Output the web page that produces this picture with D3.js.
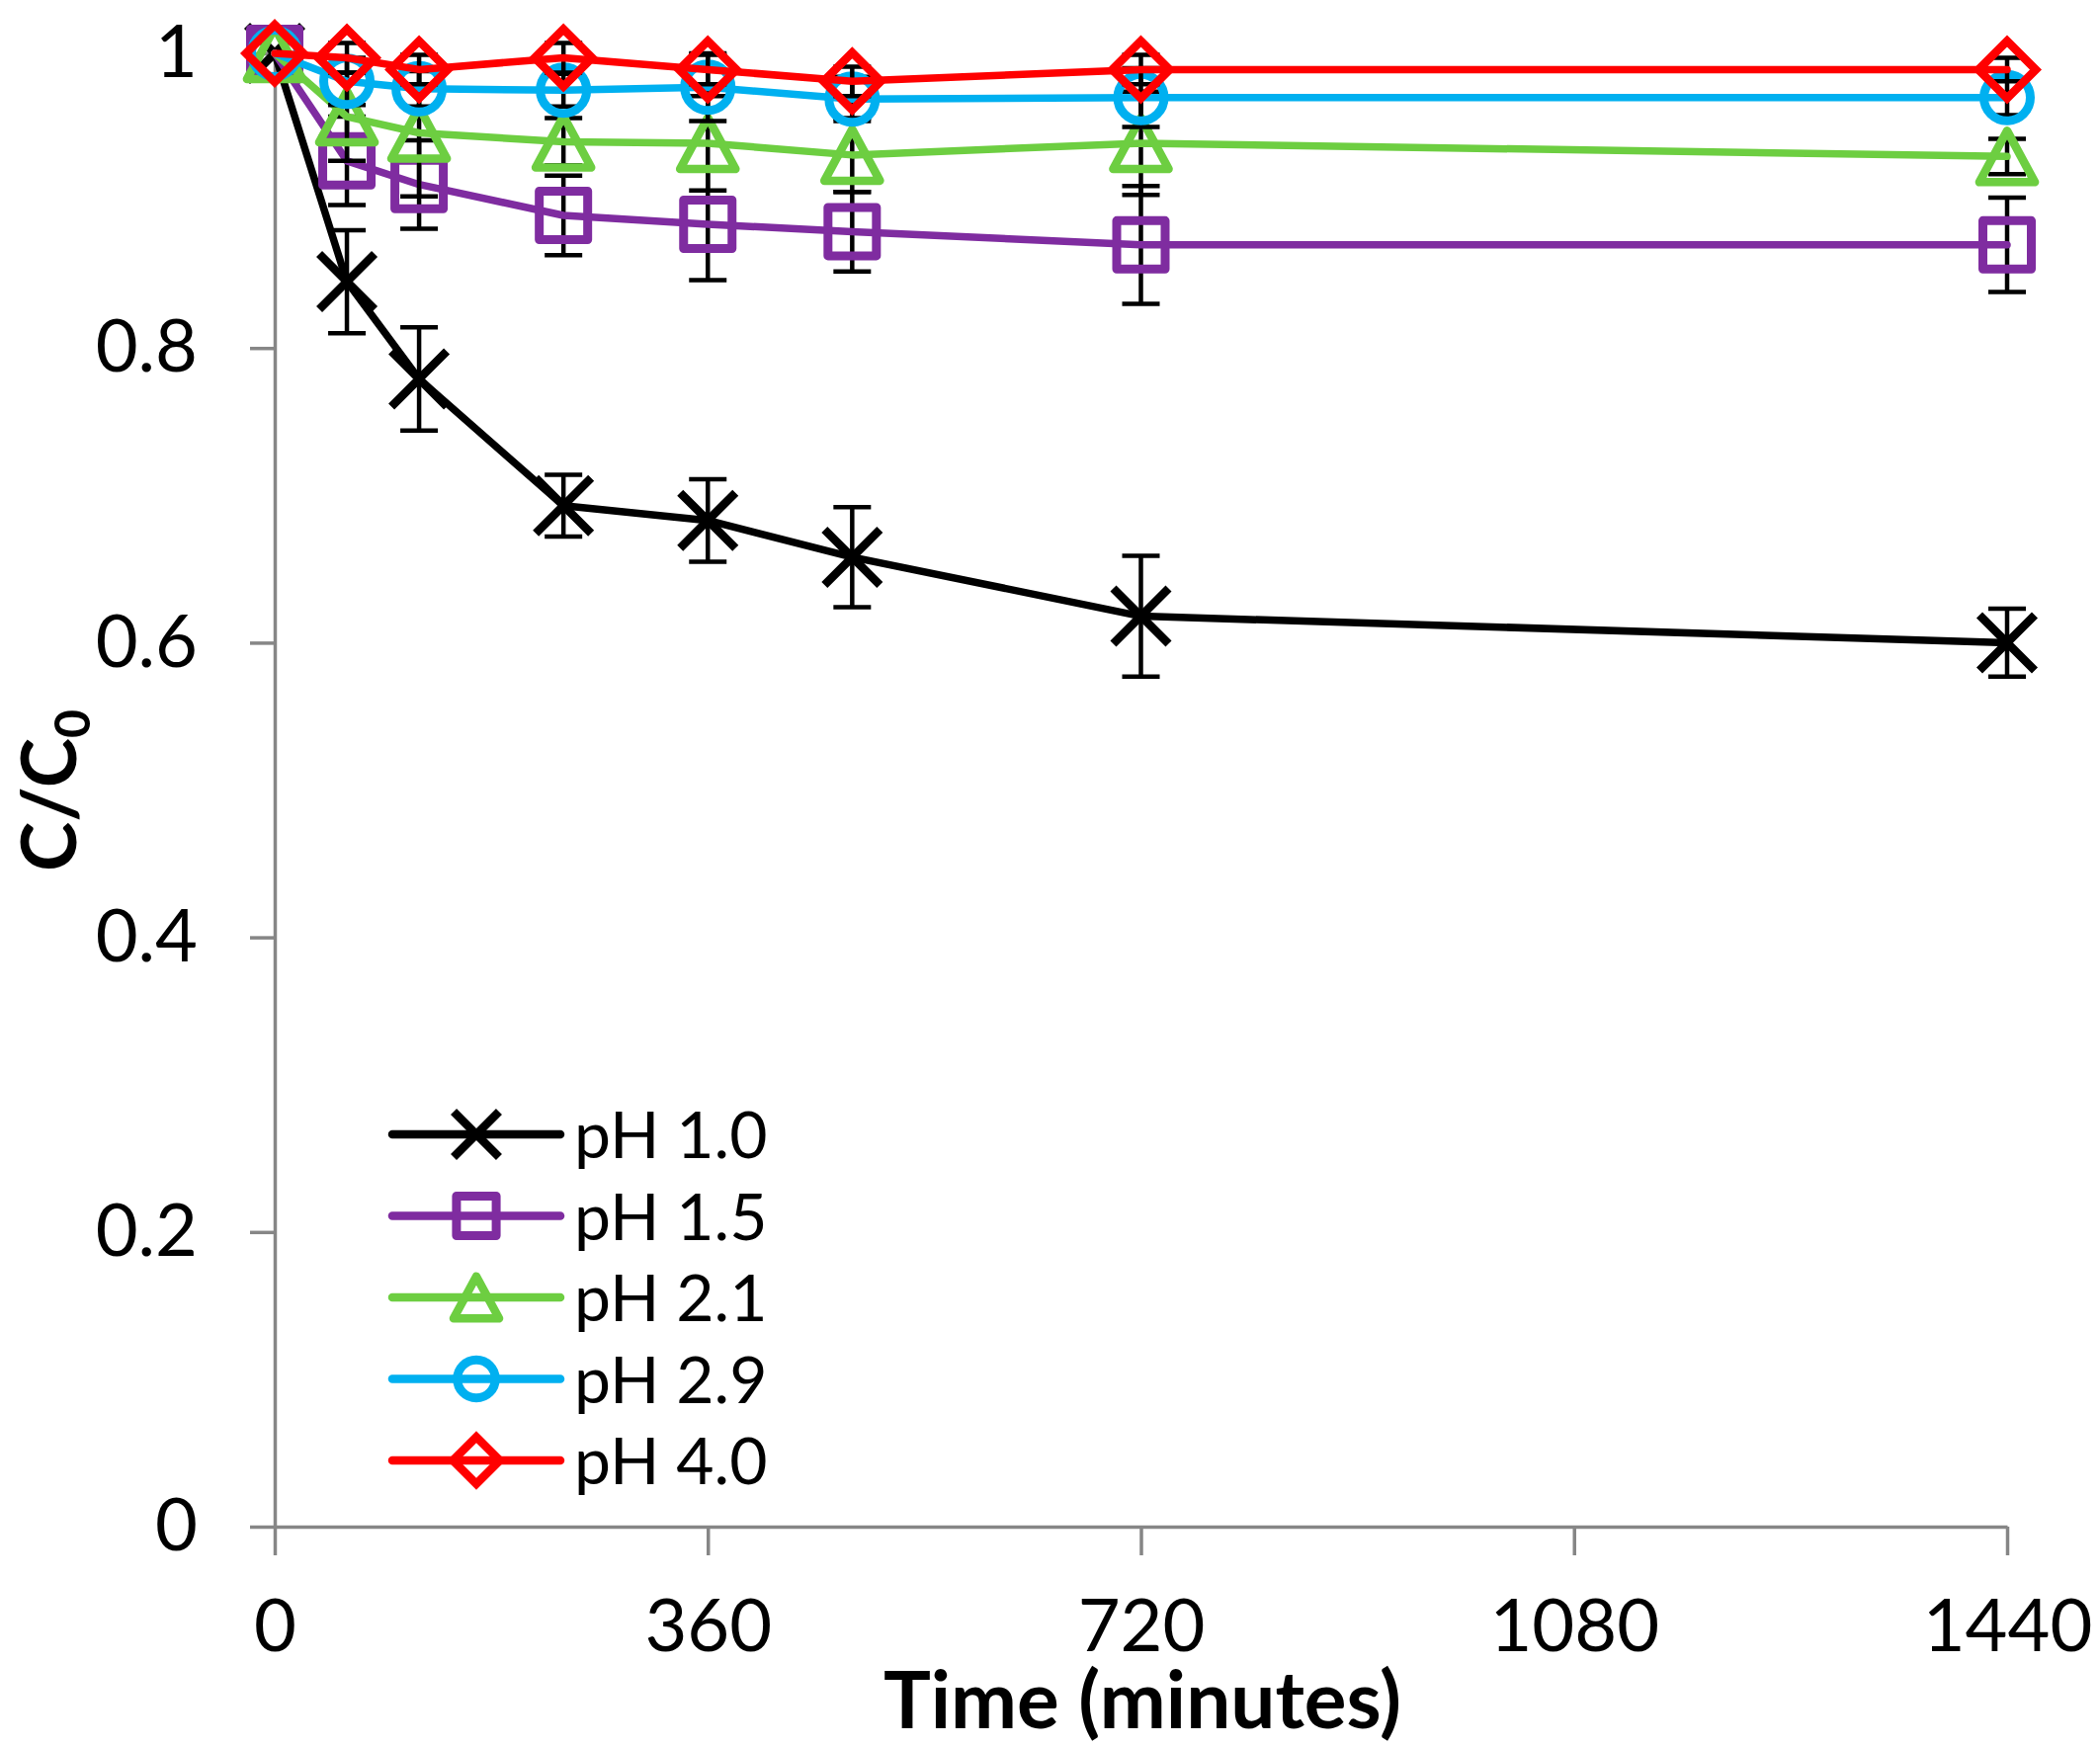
<!DOCTYPE html>
<html>
<head>
<meta charset="utf-8">
<script src="https://cdn.jsdelivr.net/npm/d3@7"></script>
<style>
    body { margin: 0; background: #fff; }
    text { font-family: Lato, "Noto Sans", sans-serif; fill: #000; }
</style>
</head>
<body>
<div id="chart-area"></div>
<script>
// Sampling times (minutes)
var times = [0, 60, 120, 240, 360, 480, 720, 1440];

var seriesNames = ["pH 1.0", "pH 1.5", "pH 2.1", "pH 2.9", "pH 4.0"];

// C/C0
var ph10 = [1.0, 0.845, 0.779, 0.693, 0.683, 0.658, 0.618, 0.600];
var ph15 = [1.0, 0.927, 0.911, 0.890, 0.884, 0.879, 0.870, 0.870];
var ph21 = [1.0, 0.957, 0.946, 0.940, 0.939, 0.931, 0.939, 0.930];
var ph29 = [1.0, 0.981, 0.976, 0.975, 0.977, 0.969, 0.970, 0.970];
var ph40 = [1.0, 0.997, 0.989, 0.997, 0.989, 0.981, 0.989, 0.989];

// error bars (+/-)
var ph10Err = [0, 0.035, 0.035, 0.021, 0.028, 0.034, 0.041, 0.023];
var ph15Err = [0, 0.030, 0.030, 0.027, 0.038, 0.027, 0.040, 0.032];
var ph21Err = [0, 0.030, 0.043, 0.016, 0.032, 0.025, 0.035, 0.012];
var ph29Err = [0, 0.016, 0.012, 0.011, 0.023, 0.015, 0.020, 0.012];
var ph40Err = [0, 0.010, 0.010, 0.010, 0.010, 0.010, 0.010, 0.008];

var xTicks = [0, 360, 720, 1080, 1440];
var yTicks = [0, 0.2, 0.4, 0.6, 0.8, 1];
var yTickLabels = ["0", "0.2", "0.4", "0.6", "0.8", "1"];

var seriesValues = [ph10, ph15, ph21, ph29, ph40];
var seriesErrors = [ph10Err, ph15Err, ph21Err, ph29Err, ph40Err];

// look of each series
var seriesStyles = [
    { colour: "#000000", marker: "x" },
    { colour: "#7f2ca0", marker: "square" },
    { colour: "#6dce41", marker: "triangle" },
    { colour: "#00b0f0", marker: "circle" },
    { colour: "#ff0000", marker: "diamond" }
];

// marker outlines, centred on 0,0, r = half size
function markerPath(type, r) {
    switch (type) {
        case "x":
            return "M" + (-r) + "," + (-r) + "L" + r + "," + r + "M" + (-r) + "," + r + "L" + r + "," + (-r);
        case "square":
            return "M" + (-r) + "," + (-r) + "H" + r + "V" + r + "H" + (-r) + "Z";
        case "triangle":
            var w = r * 1.08;
            return "M0," + (-r) + "L" + w + "," + r + "L" + (-w) + "," + r + "Z";
        case "circle":
            return "M" + r + ",0A" + r + "," + r + " 0 1 1 " + (-r) + ",0A" + r + "," + r + " 0 1 1 " + r + ",0Z";
        case "diamond":
            return "M0," + (-r) + "L" + r + ",0L0," + r + "L" + (-r) + ",0Z";
    }
}

var markerSize = { x: 28, square: 24.5, triangle: 26, circle: 23.5, diamond: 29 };
var markerStroke = { x: 8.5, square: 9, triangle: 8.5, circle: 9, diamond: 8.5 };

LineChart = function (_parentElement) {
    this.parentElement = _parentElement;
    this.initVis();
};

LineChart.prototype.initVis = function () {
    var vis = this;
    vis.margin = { left: 278, right: 94, top: 54, bottom: 222 };
    vis.width = 2125 - vis.margin.left - vis.margin.right;
    vis.height = 1767 - vis.margin.top - vis.margin.bottom;

    vis.svg = d3.select(vis.parentElement)
        .append("svg")
        .attr("width", vis.width + vis.margin.left + vis.margin.right)
        .attr("height", vis.height + vis.margin.top + vis.margin.bottom);
    vis.g = vis.svg.append("g")
        .attr("transform", "translate(" + vis.margin.left + ", " + vis.margin.top + ")");

    vis.x = d3.scaleLinear().domain([0, 1440]).range([0, vis.width]);
    vis.y = d3.scaleLinear().domain([0, 1]).range([vis.height, 0]);

    // Axes
    vis.xAxisCall = d3.axisBottom(vis.x)
        .tickValues(xTicks)
        .tickFormat(d3.format("d"))
        .tickSize(29)
        .tickSizeOuter(0)
        .tickPadding(44);
    vis.yAxisCall = d3.axisLeft(vis.y)
        .tickValues(yTicks)
        .tickFormat(function (d, i) { return yTickLabels[i]; })
        .tickSize(25)
        .tickSizeOuter(0)
        .tickPadding(53);

    vis.xAxis = vis.g.append("g")
        .attr("class", "x axis")
        .attr("transform", "translate(0," + vis.height + ")")
        .call(vis.xAxisCall);
    vis.yAxis = vis.g.append("g")
        .attr("class", "y axis")
        .call(vis.yAxisCall);

    vis.g.selectAll(".axis path, .axis line")
        .attr("stroke", "#868686")
        .attr("stroke-width", 3.5);
    vis.g.selectAll(".axis text")
        .attr("font-family", "Lato, 'Noto Sans', sans-serif")
        .attr("font-size", "74px")
        .attr("fill", "#000");

    // X Label
    vis.g.append("text")
        .attr("x", 878)
        .attr("y", 1695)
        .attr("font-size", "80px")
        .attr("font-weight", "bold")
        .attr("text-anchor", "middle")
        .text("Time (minutes)");

    // Y Label
    var yLabel = vis.g.append("text")
        .attr("transform", "rotate(-90)")
        .attr("x", -746)
        .attr("y", -201)
        .attr("font-size", "76px")
        .attr("font-weight", "bold")
        .attr("text-anchor", "middle");
    yLabel.append("tspan").text("C/C");
    yLabel.append("tspan")
        .attr("font-size", "50px")
        .attr("dy", 14)
        .text("0");

    vis.line = d3.line()
        .x(function (d) { return vis.x(d.t); })
        .y(function (d) { return vis.y(d.v); });

    vis.wrangleData();
};

LineChart.prototype.wrangleData = function () {
    var vis = this;
    vis.series = seriesNames.map(function (name, i) {
        return {
            name: name,
            style: seriesStyles[i],
            points: times.map(function (t, j) {
                return { t: t, v: seriesValues[i][j], e: seriesErrors[i][j] };
            })
        };
    });
    vis.updateVis();
};

LineChart.prototype.updateVis = function () {
    var vis = this;

    var groups = vis.g.selectAll(".series")
        .data(vis.series)
        .enter()
        .append("g")
        .attr("class", "series");

    // error bars
    groups.each(function (s) {
        var eb = d3.select(this).append("g").attr("class", "errors")
            .selectAll("g")
            .data(s.points.filter(function (p) { return p.e > 0; }))
            .enter()
            .append("g")
            .attr("stroke", "#000")
            .attr("stroke-width", 4.5);
        eb.append("line")
            .attr("x1", function (d) { return vis.x(d.t); })
            .attr("x2", function (d) { return vis.x(d.t); })
            .attr("y1", function (d) { return vis.y(d.v - d.e); })
            .attr("y2", function (d) { return vis.y(d.v + d.e); });
        eb.append("line")
            .attr("x1", function (d) { return vis.x(d.t) - 19; })
            .attr("x2", function (d) { return vis.x(d.t) + 19; })
            .attr("y1", function (d) { return vis.y(d.v + d.e); })
            .attr("y2", function (d) { return vis.y(d.v + d.e); });
        eb.append("line")
            .attr("x1", function (d) { return vis.x(d.t) - 19; })
            .attr("x2", function (d) { return vis.x(d.t) + 19; })
            .attr("y1", function (d) { return vis.y(d.v - d.e); })
            .attr("y2", function (d) { return vis.y(d.v - d.e); });
    });

    // lines
    groups.append("path")
        .attr("d", function (s) { return vis.line(s.points); })
        .attr("fill", "none")
        .attr("stroke", function (s) { return s.style.colour; })
        .attr("stroke-width", 7.5)
        .attr("stroke-linejoin", "round")
        .attr("stroke-linecap", "round");

    // markers
    groups.each(function (s) {
        var m = s.style.marker;
        d3.select(this).selectAll(".marker")
            .data(s.points)
            .enter()
            .append("path")
            .attr("class", "marker")
            .attr("transform", function (d) { return "translate(" + vis.x(d.t) + "," + vis.y(d.v) + ")"; })
            .attr("d", markerPath(m, markerSize[m]))
            .attr("fill", "none")
            .attr("stroke", s.style.colour)
            .attr("stroke-width", markerStroke[m])
            .attr("stroke-linejoin", m === "diamond" ? "miter" : "round");
    });

    // legend
    var legend = vis.g.append("g").attr("class", "legend")
        .attr("transform", "translate(119,1094)");
    var rows = legend.selectAll("g")
        .data(vis.series)
        .enter()
        .append("g")
        .attr("transform", function (d, i) { return "translate(0," + (i * 82.5) + ")"; });
    rows.append("line")
        .attr("x1", 0)
        .attr("x2", 170)
        .attr("stroke", function (d) { return d.style.colour; })
        .attr("stroke-width", 8.5)
        .attr("stroke-linecap", "round");
    rows.append("path")
        .attr("transform", "translate(85,0)")
        .attr("d", function (d) { return markerPath(d.style.marker, markerSize[d.style.marker] * 0.82); })
        .attr("fill", "none")
        .attr("stroke", function (d) { return d.style.colour; })
        .attr("stroke-width", function (d) { return markerStroke[d.style.marker]; })
        .attr("stroke-linejoin", function (d) { return d.style.marker === "diamond" ? "miter" : "round"; });
    rows.append("text")
        .attr("x", 184)
        .attr("y", 24)
        .attr("font-size", "66px")
        .text(function (d) { return d.name; });
};

new LineChart("#chart-area");
</script>
</body>
</html>
